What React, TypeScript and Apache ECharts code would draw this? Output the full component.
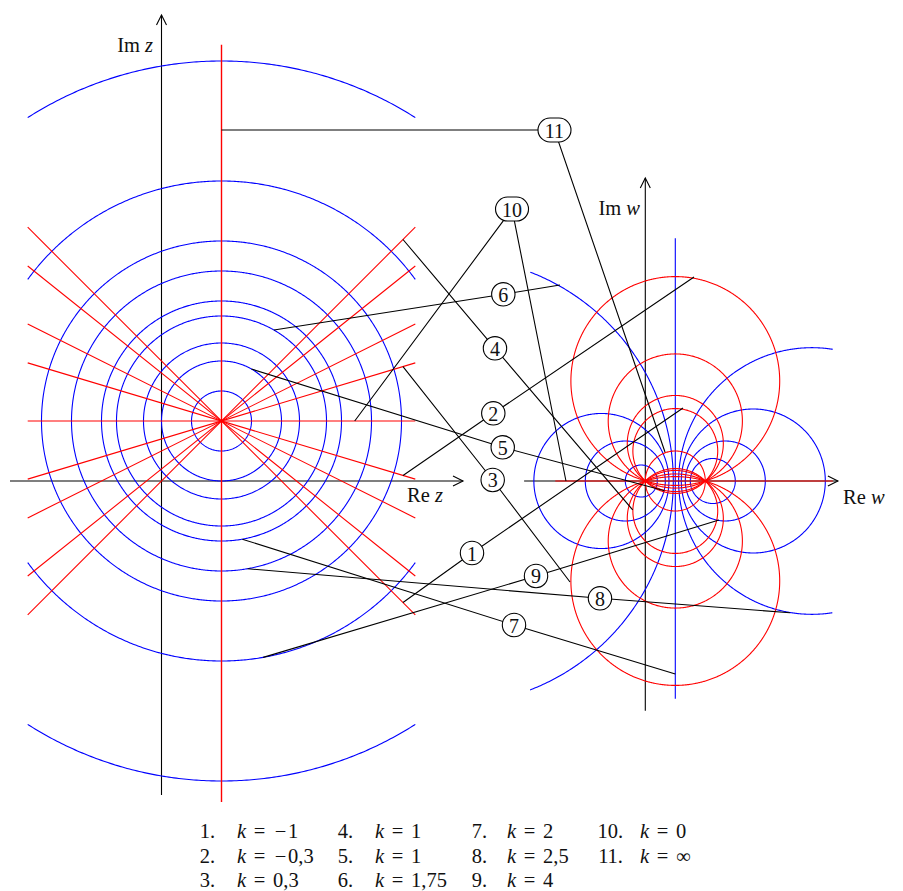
import React, { useEffect, useRef } from "react";
import * as echarts from "echarts";

// ---------- frame ----------
const CHART_W = 903;
const CHART_H = 891;
const PX = 60; // pixels per unit
const Z_ORIGIN_PX: [number, number] = [161.5, 481];
const W_ORIGIN_PX_X = 645.3;
const W_OFF = (W_ORIGIN_PX_X - Z_ORIGIN_PX[0]) / PX;
const FONT = '"Liberation Serif", "DejaVu Serif", serif';

// ---------- data: z-plane ----------
const Z0: [number, number] = [1, 1];
const MOBIUS_C = 2; // w = (z - z0) / (z - z0 + c)
const zCircleRadii = [0.5, 1, 1.3, 1.75, 2, 2.5, 3, 4, 6];
const zRaySlopes = [0, 0.3, -0.3, 0.5, -0.5, 0.8, -0.8, 1, -1, Infinity];

const zClipX: [number, number] = [Z0[0] - 3.23, Z0[0] + 3.23];
const zClipY: [number, number] = [-5.35, 7.27];
const wClipX: [number, number] = [-1.92, 3.125];
const wClipY: [number, number] = [-3.63, 4.045];
const wRealRange: [number, number] = [-1.5, 3.125];

const zAxisXRange: [number, number] = [-2.525, 5.025];
const zAxisYRange: [number, number] = [-5.233, 7.767];
const wAxisXRange: [number, number] = [-2.02, 3.21];
const wAxisYRange: [number, number] = [-3.83, 5.05];

// ---------- data: annotations ----------
const noteLabels = ["1", "2", "3", "4", "5", "6", "7", "8", "9", "10", "11"];
const noteZAnchors: any[] = [
  { ray: -1, t: 3.025 },
  { ray: -0.3, t: 3.025 },
  { ray: 0.3, t: 3.025 },
  { ray: 1, t: 3.025 },
  { circle: 1, deg: 60 },
  { circle: 1.75, deg: 60 },
  { circle: 2, deg: -80 },
  { circle: 2.5, deg: -80 },
  { circle: 4, deg: -80 },
  { ray: 0, t: 2.22 },
  { ray: Infinity, t: 4.85 },
];
const noteLabelPos: [number, number][] = [
  [5.175, -1.2],
  [5.53, 1.128],
  [5.52, 0.017],
  [5.558, 2.212],
  [5.687, 0.562],
  [5.697, 3.112],
  [5.875, -2.4],
  [7.308, -1.955],
  [6.242, -1.583],
  [5.842, 4.533],
  [6.55, 5.85],
];
const noteWAnchors: [number, number][] = [
  [0.628, 1.217],
  [0.812, 3.4],
  [-1.255, -1.683],
  [-0.21, -0.483],
  [0.32, -0.163],
  [-1.422, 3.267],
  [0.5, -3.217],
  [2.412, -2.195],
  [1.228, -0.65],
  [-1.322, 0],
  [0.328, 0.483],
];

// ---------- data: legend ----------
const legendNums = ["1.", "2.", "3.", "4.", "5.", "6.", "7.", "8.", "9.", "10.", "11."];
const legendKValues = ["−1", "−0,3", "0,3", "1", "1", "1,75", "2", "2,5", "4", "0", "∞"];
const legendNumRightX = [215, 353, 487, 623];
const legendKLeftX = [237, 375, 507, 640];
const legendRowY = [830.5, 855.5, 879.5];

// ---------- geometry helpers ----------
type Pt = [number, number];
type Box = { x0: number; x1: number; y0: number; y1: number };

function clipSeg(p: Pt, q: Pt, b: Box) {
  let t0 = 0,
    t1 = 1;
  const dx = q[0] - p[0],
    dy = q[1] - p[1];
  const checks: [number, number][] = [
    [-dx, p[0] - b.x0],
    [dx, b.x1 - p[0]],
    [-dy, p[1] - b.y0],
    [dy, b.y1 - p[1]],
  ];
  for (const [pp, qq] of checks) {
    if (pp === 0) {
      if (qq < 0) return null;
    } else {
      const r = qq / pp;
      if (pp < 0) {
        if (r > t1) return null;
        if (r > t0) t0 = r;
      } else {
        if (r < t0) return null;
        if (r < t1) t1 = r;
      }
    }
  }
  return {
    a: [p[0] + t0 * dx, p[1] + t0 * dy] as Pt,
    b: [p[0] + t1 * dx, p[1] + t1 * dy] as Pt,
    sc: t0 > 0,
    ec: t1 < 1,
  };
}

function clipPolyline(pts: Pt[], b: Box): Pt[][] {
  const runs: Pt[][] = [];
  let cur: Pt[] | null = null;
  for (let i = 0; i < pts.length - 1; i++) {
    const c = clipSeg(pts[i], pts[i + 1], b);
    if (!c) {
      if (cur) runs.push(cur);
      cur = null;
      continue;
    }
    if (!cur || c.sc) {
      if (cur) runs.push(cur);
      cur = [c.a];
    }
    cur.push(c.b);
    if (c.ec) {
      runs.push(cur);
      cur = null;
    }
  }
  if (cur) runs.push(cur);
  return runs;
}

function inside(p: Pt, b: Box) {
  return p[0] >= b.x0 && p[0] <= b.x1 && p[1] >= b.y0 && p[1] <= b.y1;
}

function clippedCircle(cx: number, cy: number, r: number, b: Box, n = 900): Pt[][] {
  const pts: Pt[] = [];
  for (let i = 0; i < n; i++) {
    const a = (2 * Math.PI * i) / n;
    pts.push([cx + r * Math.cos(a), cy + r * Math.sin(a)]);
  }
  const start = pts.findIndex((p) => !inside(p, b));
  if (start < 0) return [[...pts, pts[0]]];
  const rot = [...pts.slice(start), ...pts.slice(0, start), pts[start]];
  return clipPolyline(rot, b);
}

const zBox: Box = { x0: zClipX[0], x1: zClipX[1], y0: zClipY[0], y1: zClipY[1] };
const wBox: Box = { x0: wClipX[0], x1: wClipX[1], y0: wClipY[0], y1: wClipY[1] };

function zAnchorPoint(a: any): Pt {
  if (a.circle !== undefined) {
    const rad = (a.deg * Math.PI) / 180;
    return [Z0[0] + a.circle * Math.cos(rad), Z0[1] + a.circle * Math.sin(rad)];
  }
  if (!isFinite(a.ray)) return [Z0[0], Z0[1] + a.t];
  return [Z0[0] + a.t, Z0[1] + a.ray * a.t];
}

const toW = (p: Pt): Pt => [p[0] + W_OFF, p[1]];

function buildOption() {
  const series: any[] = [];
  const addLine = (data: Pt[], color: string, width: number, z: number) => {
    series.push({
      type: "line",
      data,
      showSymbol: false,
      symbol: "none",
      silent: true,
      clip: false,
      z,
      lineStyle: { color, width, cap: "butt", join: "miter" },
    });
  };
  const BLUE = "#0000ff";
  const RED = "#ff0000";
  const LW = 1.1;

  // axes
  const aLen = 10 / PX;
  const aHalf = 5 / PX;
  addLine([[zAxisXRange[0], 0], [zAxisXRange[1], 0]], "#000", 1.1, 1);
  addLine([[zAxisXRange[1] - aLen, aHalf], [zAxisXRange[1], 0], [zAxisXRange[1] - aLen, -aHalf]], "#000", 1.1, 1);
  addLine([[0, zAxisYRange[0]], [0, zAxisYRange[1]]], "#000", 1.1, 1);
  addLine([[-aHalf, zAxisYRange[1] - aLen], [0, zAxisYRange[1]], [aHalf, zAxisYRange[1] - aLen]], "#000", 1.1, 1);
  addLine([toW([wAxisXRange[0], 0]), toW([wAxisXRange[1], 0])], "#000", 1.1, 1);
  addLine([toW([wAxisXRange[1] - aLen, aHalf]), toW([wAxisXRange[1], 0]), toW([wAxisXRange[1] - aLen, -aHalf])], "#000", 1.1, 1);
  addLine([toW([0, wAxisYRange[0]]), toW([0, wAxisYRange[1]])], "#000", 1.1, 1);
  addLine([toW([-aHalf, wAxisYRange[1] - aLen]), toW([0, wAxisYRange[1]]), toW([aHalf, wAxisYRange[1] - aLen])], "#000", 1.1, 1);

  // z-plane circles
  for (const r of zCircleRadii) {
    for (const run of clippedCircle(Z0[0], Z0[1], r, zBox)) addLine(run, BLUE, LW, 2);
  }
  // z-plane rays (lines through z0)
  for (const k of zRaySlopes) {
    let d: Pt = isFinite(k) ? [1, k] : [0, 1];
    const n = Math.hypot(d[0], d[1]);
    d = [d[0] / n, d[1] / n];
    const p: Pt = [Z0[0] - 100 * d[0], Z0[1] - 100 * d[1]];
    const q: Pt = [Z0[0] + 100 * d[0], Z0[1] + 100 * d[1]];
    for (const run of clipPolyline([p, q], zBox)) addLine(run, RED, isFinite(k) ? LW : 1.4, 2);
  }

  // w-plane: images of circles |z - z0| = r  ->  Apollonius circles |w|/|w-1| = r/c
  for (const r of zCircleRadii) {
    const q = r / MOBIUS_C;
    if (Math.abs(q - 1) < 1e-9) {
      for (const run of clipPolyline([[0.5, -100], [0.5, 100]], wBox)) addLine(run.map(toW), BLUE, LW, 2);
    } else {
      const cx = (q * q) / (q * q - 1);
      const rad = q / Math.abs(q * q - 1);
      for (const run of clippedCircle(cx, 0, rad, wBox)) addLine(run.map(toW), BLUE, LW, 2);
    }
  }
  // w-plane: images of lines through z0 -> circles through w=0 and w=1
  for (const k of zRaySlopes) {
    if (k === 0) {
      addLine([toW([wRealRange[0], 0]), toW([wRealRange[1], 0])], RED, LW, 2);
      continue;
    }
    const h = isFinite(k) ? -0.5 / k : 0;
    const rad = Math.sqrt(0.25 + h * h);
    for (const run of clippedCircle(0.5, h, rad, wBox)) addLine(run.map(toW), RED, LW, 2);
  }

  // annotation leader lines
  noteLabels.forEach((_, i) => {
    addLine([zAnchorPoint(noteZAnchors[i]), noteLabelPos[i], toW(noteWAnchors[i])], "#000", 1.1, 3);
  });

  // annotation labels
  series.push({
    type: "custom",
    coordinateSystem: "cartesian2d",
    silent: true,
    clip: false,
    z: 10,
    data: noteLabelPos.map((p) => [p[0], p[1]]),
    encode: { x: 0, y: 1 },
    renderItem: (params: any, api: any) => {
      const pt = api.coord([api.value(0), api.value(1)]);
      const txt = noteLabels[params.dataIndex];
      const wide = txt.length > 1;
      const w = wide ? 33 : 23.4;
      const h = wide ? 24 : 23.4;
      return {
        type: "group",
        children: [
          {
            type: "rect",
            shape: { x: pt[0] - w / 2, y: pt[1] - h / 2, width: w, height: h, r: h / 2 },
            style: { fill: "#fff", stroke: "#000", lineWidth: 1.1 },
          },
          {
            type: "text",
            style: {
              text: txt,
              x: pt[0],
              y: pt[1] + 0.5,
              align: "center",
              verticalAlign: "middle",
              fontSize: 20,
              fontFamily: FONT,
              fill: "#111",
            },
          },
        ],
      };
    },
  });

  // texts
  const FS = 20.5;
  const LH = 16;
  const rich = {
    r: { fontSize: FS, fontFamily: FONT, fill: "#111", lineHeight: LH },
    i: { fontSize: FS, fontFamily: FONT, fontStyle: "italic", fill: "#111", lineHeight: LH },
    s: { fontSize: FS, fontFamily: FONT, fill: "#111", lineHeight: LH, width: 6 },
    op: { fontSize: FS, fontFamily: FONT, fill: "#111", lineHeight: LH, width: 15, align: "center" },
  };
  const elements: any[] = [];
  const addText = (text: string, x: number, y: number, align: string) => {
    elements.push({
      type: "text",
      x,
      y,
      silent: true,
      style: { text, rich, align, verticalAlign: "middle", fontSize: FS, fontFamily: FONT, fill: "#111", lineHeight: LH },
    });
  };
  addText("{r|Im }{i|z}", 153, 45, "right");
  addText("{r|Re }{i|z}", 407, 495, "left");
  addText("{r|Im }{i|w}", 640, 208, "right");
  addText("{r|Re }{i|w}", 843, 497, "left");

  legendNums.forEach((num, i) => {
    const col = Math.floor(i / 3);
    const row = i % 3;
    const v = legendKValues[i];
    const valPart = v.startsWith("−") ? "{op|−}{r|" + v.slice(1) + "}" : "{r|" + v + "}";
    addText("{r|" + num + "}", legendNumRightX[col], legendRowY[row], "right");
    addText("{i|k}{s| }{op|=}{s| }" + valPart, legendKLeftX[col], legendRowY[row], "left");
  });

  return {
    animation: false,
    backgroundColor: "#ffffff",
    grid: { left: 0, right: 0, top: 0, bottom: 0, containLabel: false },
    xAxis: {
      type: "value",
      min: -Z_ORIGIN_PX[0] / PX,
      max: (CHART_W - Z_ORIGIN_PX[0]) / PX,
      show: false,
    },
    yAxis: {
      type: "value",
      min: (Z_ORIGIN_PX[1] - CHART_H) / PX,
      max: Z_ORIGIN_PX[1] / PX,
      show: false,
    },
    series,
    graphic: { elements },
  };
}

export default function App() {
  const ref = useRef<HTMLDivElement>(null);
  useEffect(() => {
    if (!ref.current) return;
    const chart = echarts.init(ref.current, undefined, { renderer: "svg" });
    chart.setOption(buildOption() as any);
    return () => chart.dispose();
  }, []);
  return (
    <div
      ref={ref}
      style={{ position: "absolute", left: 0, top: 0, width: CHART_W, height: CHART_H, background: "#fff" }}
    />
  );
}
